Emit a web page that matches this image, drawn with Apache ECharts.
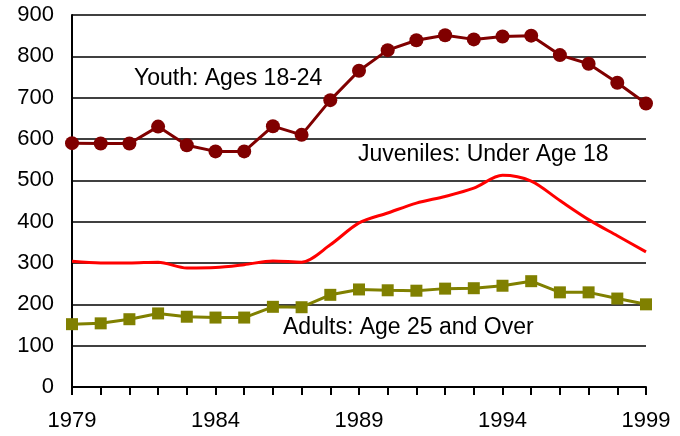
<!DOCTYPE html>
<html>
<head>
<meta charset="utf-8">
<script src="https://cdn.jsdelivr.net/npm/echarts@6/dist/echarts.min.js"></script>
<style>
html,body{margin:0;padding:0;background:#fff;}
#chart{width:680px;height:436px;}
</style>
</head>
<body>
<div id="chart"></div>
<script>
var years = ['1979','1980','1981','1982','1983','1984','1985','1986','1987','1988','1989',
	'1990','1991','1992','1993','1994','1995','1996','1997','1998','1999'];
var youth = [590,589,589,630,585,570,570,631,610,694,765,815,839,851,841,848,850,803,782,736,686];
var juveniles = [304,300,300,302,288,289,296,305,302,344,397,421,445,461,481,512,498,451,405,366,327];
var adults = [152,154,164,178,170,168,168,194,193,223,236,234,233,238,239,245,256,229,229,214,200];

var font = 'Liberation Sans, Arial, sans-serif';

var chart = echarts.init(document.getElementById('chart'));

// 系列名称标注
function note(text, x, y) {
	return {
		type: 'text', x: x, y: y,
		style: { text: text, fontSize: 23, fontFamily: font, fill: '#000', verticalAlign: 'middle' }
	};
}

var option = {
	animation: false,
	grid: { left: 72, right: 34, top: 15, bottom: 49 },
	xAxis: {
		type: 'category',
		data: years,
		boundaryGap: false,
		axisLine: { lineStyle: { color: '#000', width: 2 } },
		axisTick: { interval: 0, length: 8, lineStyle: { color: '#000', width: 2 } },
		axisLabel: { interval: 4, color: '#000', fontSize: 22, fontFamily: font, margin: 23 }
	},
	yAxis: {
		type: 'value',
		min: 0,
		max: 900,
		interval: 100,
		axisLine: { show: true, lineStyle: { color: '#000', width: 2 } },
		axisTick: { show: false },
		axisLabel: { color: '#000', fontSize: 22, fontFamily: font, margin: 18 },
		splitLine: { lineStyle: { color: '#000', width: 1.5 } }
	},
	series: [
		{
			name: 'Youth: Ages 18-24',
			type: 'line',
			data: youth,
			symbol: 'circle',
			symbolSize: 14,
			itemStyle: { color: '#800000' },
			lineStyle: { color: '#800000', width: 3 }
		},
		{
			name: 'Juveniles: Under Age 18',
			type: 'line',
			data: juveniles,
			symbol: 'none',
			smooth: 0.3,
			lineStyle: { color: '#ff0000', width: 3 }
		},
		{
			name: 'Adults: Age 25 and Over',
			type: 'line',
			data: adults,
			symbol: 'rect',
			symbolSize: 12,
			itemStyle: { color: '#808000' },
			lineStyle: { color: '#808000', width: 3 }
		}
	],
	graphic: [
		note('Youth: Ages 18-24', 134, 79),
		note('Juveniles: Under Age 18', 358, 155),
		note('Adults: Age 25 and Over', 283, 328)
	]
};
chart.setOption(option);
</script>
</body>
</html>
